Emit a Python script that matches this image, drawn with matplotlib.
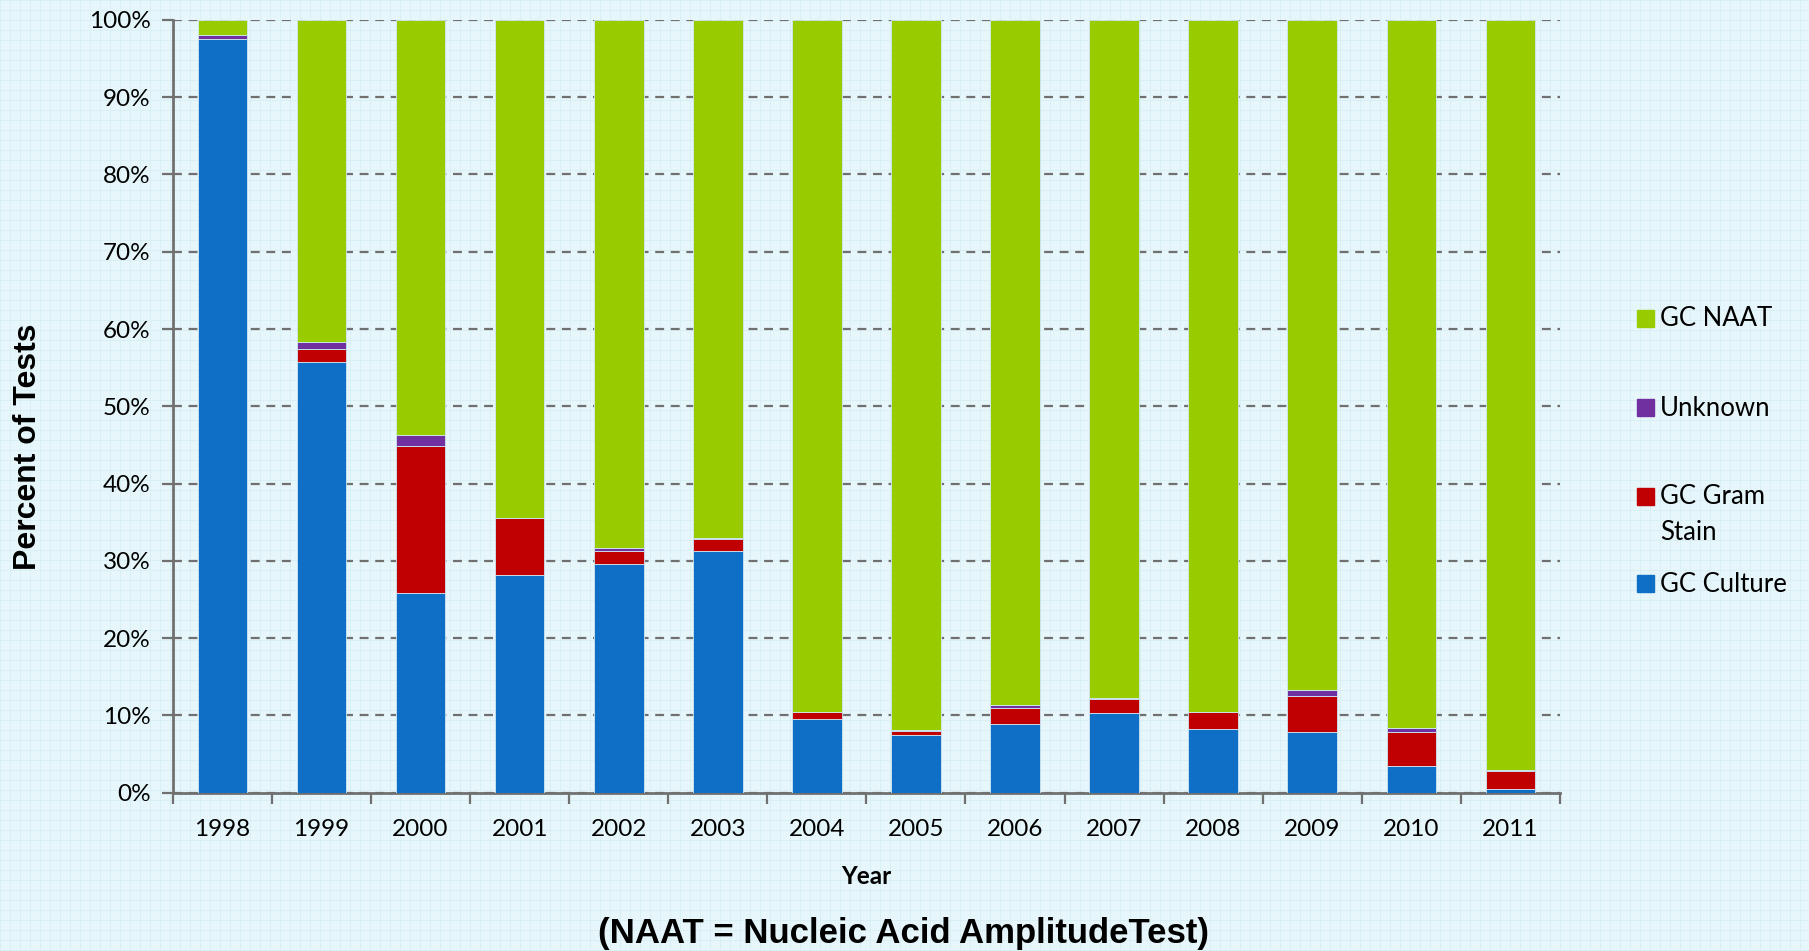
import numpy as np
import matplotlib
matplotlib.use("Agg")
import matplotlib.pyplot as plt
from matplotlib.patches import Rectangle
from matplotlib.ticker import FixedLocator, FuncFormatter

# values (percent of tests)
years = ["1998", "1999", "2000", "2001", "2002", "2003", "2004",
         "2005", "2006", "2007", "2008", "2009", "2010", "2011"]
gc_culture = [97.5, 55.7, 25.8, 28.1, 29.6, 31.3, 9.5, 7.4, 8.9, 10.3, 8.2, 7.8, 3.4, 0.4]
gc_gram = [0.1, 1.7, 19.1, 7.4, 1.7, 1.5, 0.9, 0.6, 2.1, 1.8, 2.2, 4.7, 4.5, 2.4]
unknown = [0.4, 0.95, 1.4, 0.1, 0.3, 0.1, 0.0, 0.15, 0.35, 0.2, 0.0, 0.75, 0.5, 0.15]
gc_naat = [100 - a - b - c for a, b, c in zip(gc_culture, gc_gram, unknown)]

series = [("GC Culture", gc_culture, "#0F6FC6"),
          ("GC Gram Stain", gc_gram, "#C00000"),
          ("Unknown", unknown, "#7030A0"),
          ("GC NAAT", gc_naat, "#99CC00")]

bg = "#E6F6FA"
fig = plt.figure(figsize=(18.09, 9.51), dpi=100, facecolor=bg)

# faint graph-paper background
bgax = fig.add_axes([0, 0, 1, 1], zorder=-5)
bgax.set_xlim(0, 1809)
bgax.set_ylim(951, 0)
for v in np.arange(0, 1809, 10):
    bgax.axvline(v, color="#D6EEF4", lw=0.6)
for v in np.arange(0, 951, 10):
    bgax.axhline(v, color="#D6EEF4", lw=0.6)
bgax.set_axis_off()

ax = fig.add_axes([0.0956, 0.1666, 0.7667, 0.8124])
ax.set_facecolor("none")

x = np.arange(len(years))
bottom = np.zeros(len(years))
for name, vals, col in series:
    ax.bar(x, vals, width=0.5, bottom=bottom, color=col,
           edgecolor="#CFE8F5", linewidth=0.6, zorder=3)
    bottom += np.array(vals)

ax.set_xlim(-0.5, len(years) - 0.5)
ax.set_ylim(0, 100)

# y axis
ax.set_yticks(np.arange(0, 101, 10))
ax.yaxis.set_major_formatter(FuncFormatter(lambda v, p: f"{int(v)}%"))
ax.grid(axis="y", linestyle=(0, (4, 3)), color="#707070", lw=1.6, zorder=1)
ax.tick_params(axis="y", length=8, width=1.6, color="#707070",
               labelsize=17.5, pad=8)

# x axis: ticks between categories, labels at centres
ax.xaxis.set_major_locator(FixedLocator(np.arange(-0.5, len(years), 1)))
ax.xaxis.set_minor_locator(FixedLocator(x))
ax.set_xticklabels([""] * (len(years) + 1))
ax.set_xticklabels(years, minor=True)
ax.tick_params(axis="x", which="major", length=8, width=1.6, color="#707070")
ax.tick_params(axis="x", which="minor", length=0, labelsize=17.5, pad=19)

for lbl in ax.get_yticklabels() + ax.get_xticklabels(minor=True):
    lbl.set_fontfamily("Lato")

for s in ["top", "right"]:
    ax.spines[s].set_visible(False)
for s in ["left", "bottom"]:
    ax.spines[s].set_color("#707070")
    ax.spines[s].set_linewidth(2)

ax.set_ylabel("Percent of Tests", fontsize=23, fontweight="bold",
              family="Liberation Sans")
ax.yaxis.set_label_coords(-0.094, 0.448)
ax.set_xlabel("Year", fontsize=17.5, fontweight="bold", family="Lato", labelpad=18)

fig.text(903 / 1809, 1 - 934 / 951, "(NAAT = Nucleic Acid AmplitudeTest)",
         fontsize=25, fontweight="bold", family="Liberation Sans",
         ha="center", va="center")

# legend drawn by hand (marker aligned with first text line, like Excel)
leg_rows = [(["GC NAAT"], "#99CC00", 319), (["Unknown"], "#7030A0", 408),
            (["GC Gram", "Stain"], "#C00000", 497), (["GC Culture"], "#0F6FC6", 584)]
for lines, col, ypix in leg_rows:
    fig.patches.append(Rectangle((1637 / 1809, 1 - (ypix + 8) / 951),
                                 17 / 1809, 17 / 951, color=col,
                                 transform=fig.transFigure, figure=fig))
    for i, line in enumerate(lines):
        fig.text(1660 / 1809, 1 - (ypix + 36 * i) / 951, line, fontsize=18.5,
                 family="Lato", ha="left", va="center")

fig.savefig("out.png", dpi=100, facecolor=bg)
